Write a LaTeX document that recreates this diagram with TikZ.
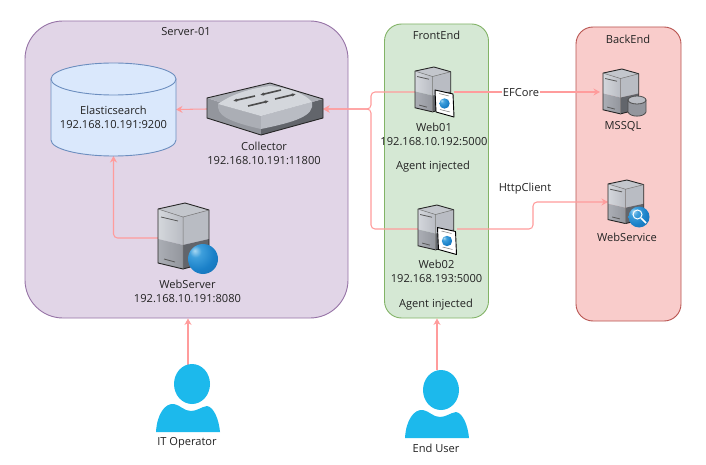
\documentclass[tikz,border=0pt]{standalone}
\usepackage{fontspec}
\setmainfont{Open Sans}
\usetikzlibrary{arrows.meta}
\definecolor{srvfill}{HTML}{E1D5E7}\definecolor{srvline}{HTML}{9673A6}
\definecolor{grnfill}{HTML}{D5E8D4}\definecolor{grnline}{HTML}{82B366}
\definecolor{redfill}{HTML}{F9CCCB}\definecolor{redline}{HTML}{B85450}
\definecolor{blufill}{HTML}{DAE8FC}\definecolor{bluline}{HTML}{6C8EBF}
\definecolor{conn}{HTML}{FF9C9C}\definecolor{person}{HTML}{1CB9EC}
\definecolor{txt}{HTML}{222222}
\definecolor{sa}{HTML}{D4D7DC}\definecolor{sb}{HTML}{B9BCC3}
\definecolor{sc}{HTML}{ABAEB5}\definecolor{sd}{HTML}{93969D}
\definecolor{se}{HTML}{62656B}\definecolor{sf}{HTML}{C3C6CC}
\definecolor{ga}{HTML}{A8D8F2}\definecolor{gb}{HTML}{3E9FDC}
\definecolor{gc}{HTML}{1A80C8}\definecolor{gd}{HTML}{10609F}
\pgfdeclareradialshading{bluesphere}{\pgfpoint{-14bp}{14bp}}{%
  color(0bp)=(ga);
  color(10bp)=(gb);
  color(28bp)=(gc);
  color(62bp)=(gd);
  color(100bp)=(gd)}
\tikzset{
  x=1pt,y=-1pt,
  box/.style={draw,line width=0.9pt,inner sep=0pt},
  anchorbox/.style={inner sep=0pt,outer sep=0pt},
  link/.style={draw=conn,line width=1.05pt,rounded corners=4pt,-{Stealth[length=6.5pt,width=7pt]}},
  lbl/.style={font=\fontsize{11.1}{14.2}\selectfont,text=txt,align=center,inner sep=0pt},
  iconline/.style={draw=black!85,line width=0.9pt,line join=round},
  globe/.style={shading=bluesphere},
}
\newcommand{\servericon}[4]{% x y xscale yscale : base icon 51 x 66
 \begin{scope}[shift={(#1,#2)},xscale=#3,yscale=#4]
  \path[fill=sf] (0,6)--(27,0)--(51,7)--(25,14)--cycle;
  \path[left color=sa,right color=sb] (0,6)--(25,14)--(25,42)--(0,36)--cycle;
  \path[left color=sc,right color=sd] (0,36)--(25,42)--(25,66)--(0,60)--cycle;
  \path[fill=sb] (25,14)--(51,7)--(51,36)--(25,42)--cycle;
  \path[fill=se] (25,42)--(51,36)--(51,59)--(25,66)--cycle;
  \draw[iconline] (0,6)--(27,0)--(51,7)--(51,59)--(25,66)--(0,60)--cycle;
  \draw[black!55,line width=0.5pt] (0,6)--(25,14)--(51,7) (25,14)--(25,66);
  \draw[black!65,line width=0.8pt] (3,14)--(20,18) (6,56)--(17,59);
 \end{scope}}
\newcommand{\docicon}[2]{%
 \begin{scope}[shift={(#1,#2)}]
  \draw[fill=white,draw=black,line width=0.9pt,line join=round] (0,0)--(18,4)--(19,27)--(1,22)--cycle;
  \draw[black!50,line width=0.5pt] (4,3.5)--(14,6) (5,19.5)--(15,22);
  \path[globe] (9.5,13.5) circle[radius=5.2pt];
 \end{scope}}
\newcommand{\usericon}[2]{% head centre
 \begin{scope}[shift={(#1,#2)}]
  \fill[person] (0,0) ellipse[x radius=18pt,y radius=20pt];
  \fill[person] (-36,48) .. controls (-35,30) and (-27,19) .. (-18,20)
     .. controls (-12,21) and (-8,27) .. (-1,27)
     .. controls (5,27) and (9,23) .. (15,22)
     .. controls (22,23) and (27,36) .. (28,48) -- cycle;
 \end{scope}}
\begin{document}
\begin{tikzpicture}
\useasboundingbox (0,0) rectangle (706,465);
\path[fill=white] (0,0) rectangle (706,465);
% containers
\node[box,draw=srvline,fill=srvfill,rounded corners=38pt,minimum width=323pt,minimum height=297pt] (server) at (186.5,169.5) {};
\node[box,draw=grnline,fill=grnfill,rounded corners=17pt,minimum width=104pt,minimum height=294pt] (front) at (436.5,171) {};
\node[box,draw=redline,fill=redfill,rounded corners=17pt,minimum width=105pt,minimum height=294pt] (back) at (628.5,174) {};
% icon anchor boxes
\node[anchorbox,minimum width=125pt,minimum height=93pt] (es) at (113.5,109.5) {};
\node[anchorbox,minimum width=116pt,minimum height=52pt] (collector) at (265,109) {};
\node[anchorbox,minimum width=51pt,minimum height=70pt] (webserver) at (183.5,238) {};
\node[anchorbox,minimum width=39pt,minimum height=50pt] (web01) at (434.5,92) {};
\node[anchorbox,minimum width=39pt,minimum height=50pt] (web02) at (437.5,229) {};
\node[anchorbox,minimum width=46pt,minimum height=47pt] (mssql) at (623,92) {};
\node[anchorbox,minimum width=42pt,minimum height=48pt] (webservice) at (629,204) {};
\coordinate (junc) at (371,109);
\coordinate (wsin) at (608,202);
\coordinate (wsmid) at (533,229);
\coordinate (ittop) at (188,365);
\coordinate (eutop) at (437,370);
% connectors
\draw[link] (collector.west) -- (es.east);
\draw[link] (webserver.west) -| (es.south);
\draw[link] (web01.west) -| (junc) -- (collector.east);
\draw[link] (web02.west) -| (junc) -- (collector.east);
\draw[link] (web01.east) -- (mssql.west);
\draw[link] (web02.east) -- (wsmid) |- (wsin);
\draw[link] (ittop) -- (ittop |- server.south);
\draw[link] (eutop) -- (eutop |- front.south);
% Elasticsearch cylinder
\draw[draw=bluline,fill=blufill,line width=0.9pt] (51,79) -- (51,140) .. controls (51,149) and (79,156) .. (113.5,156) .. controls (148,156) and (176,149) .. (176,140) -- (176,79) -- cycle;
\draw[draw=bluline,fill=blufill,line width=0.9pt] (113.5,79) ellipse[x radius=62.5pt,y radius=16pt];
% Collector switch
\path[fill=sd] (207,98)--(261,116)--(261,135)--(207,118)--cycle;
\path[fill=se] (261,116)--(323,99)--(323,118)--(261,135)--cycle;
\path[fill=sc] (207,98)--(270,83)--(323,99)--(261,116)--cycle;
\path[fill=sc] (218,104) .. controls (217,115) and (226,121) .. (261,129) -- (261,116) -- cycle;
\path[fill=sb] (261,116) -- (261,129) .. controls (295,122) and (315,116) .. (312,102) -- cycle;
\path[fill=sa] (218,104) .. controls (235,92) and (255,88) .. (270,86) .. controls (290,88) and (305,94) .. (312,102) -- (261,116) -- cycle;
\draw[iconline] (207,98)--(270,83)--(323,99)--(323,118)--(261,135)--(207,118)--cycle;
\draw[black!70,line width=1.6pt,-{Latex[length=4pt,width=3.5pt]}] (255,96) -- (233,101);
\draw[black!70,line width=1.6pt,-{Latex[length=4pt,width=3.5pt]}] (281,90) -- (260,95);
\draw[black!70,line width=1.6pt,-{Latex[length=4pt,width=3.5pt]}] (248,106) -- (269,101) ;
\draw[black!70,line width=1.6pt,-{Latex[length=4pt,width=3.5pt]}] (275,99) -- (296,94);
% servers
\servericon{158}{203}{1}{1}
\path[globe] (203,259) circle[radius=15pt];
\servericon{415}{67}{0.7}{0.68}
\docicon{435}{90}
\servericon{418}{205}{0.7}{0.68}
\docicon{437.5}{227.5}
\servericon{603}{69}{0.7}{0.68}
\draw[draw=black!70,fill=sd,line width=0.8pt] (628,100) -- (628,112) .. controls (630,117.5) and (644,117.5) .. (646,112) -- (646,100) -- cycle;
\draw[draw=black!70,fill=sb,line width=0.8pt] (637,100) ellipse[x radius=9pt,y radius=4pt];
\servericon{608}{180}{0.7}{0.66}
\path[globe] (639,217) circle[radius=10.5pt];
\draw[white,line width=1pt] (637.5,214.5) circle[radius=4.5pt];
\draw[white,line width=1.6pt] (641,218) -- (646,223);
% people
\usericon{192}{384}
\usericon{441}{390}
% labels
\node[lbl] (serverlbl) at (186,32) {Server-01};
\node[lbl] (frontlbl) at (436.5,35) {FrontEnd};
\node[lbl] (backlbl) at (628,39) {BackEnd};
\node[lbl] (eslbl) at (113.5,117) {Elasticsearch\\192.168.10.191:9200};
\node[lbl] (collbl) at (264,153) {Collector\\192.168.10.191:11800};
\node[lbl] (wslbl) at (187.5,291) {WebServer\\192.168.10.191:8080};
\node[lbl] (w1lbl) at (434,134) {Web01\\192.168.10.192:5000};
\node[lbl] (w1a) at (433,167) {Agent injected};
\node[lbl] (w2lbl) at (436.5,271) {Web02\\192.168.193:5000};
\node[lbl] (w2a) at (436,305) {Agent injected};
\node[lbl] (mslbl) at (623,126) {MSSQL};
\node[lbl] (wsvlbl) at (627,237) {WebService};
\node[lbl,fill=white,inner xsep=1pt] (ef) at (521,93) {EFCore};
\node[lbl] (hc) at (525,189) {HttpClient};
\node[lbl] (itl) at (187,443) {IT Operator};
\node[lbl] (eul) at (436,448) {End User};
\end{tikzpicture}
\end{document}
